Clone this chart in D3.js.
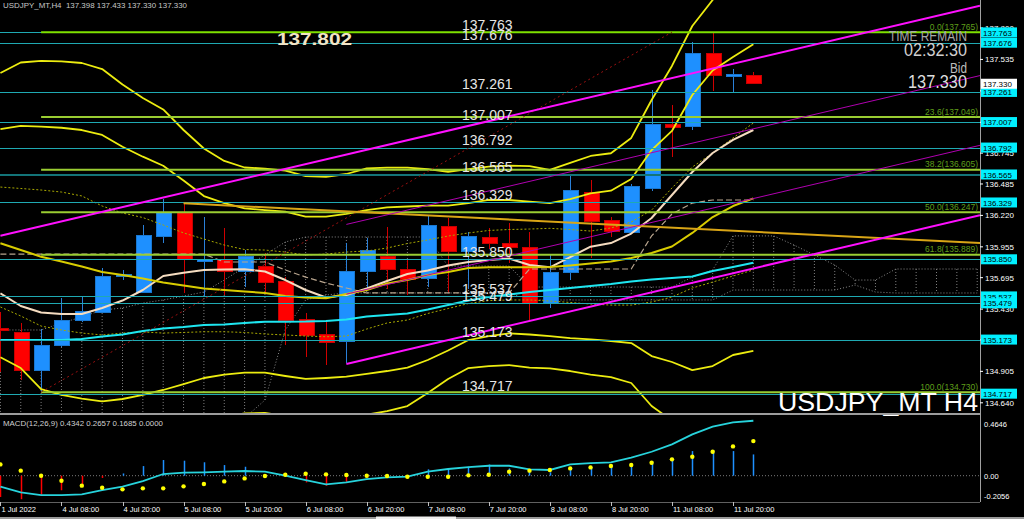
<!DOCTYPE html>
<html><head><meta charset="utf-8">
<script src="https://cdn.jsdelivr.net/npm/d3@7"></script>
<style>
body{margin:0;background:#000;overflow:hidden}
svg{display:block}
text{font-family:"Liberation Sans",Arial,sans-serif}
</style>
</head><body>
<svg id="c" width="1024" height="519"></svg>
<script>
// ---------- DATA ----------
const barTimes = ["2022.07.01 20:00","2022.07.04 00:00","2022.07.04 04:00","2022.07.04 08:00","2022.07.04 12:00","2022.07.04 16:00","2022.07.04 20:00","2022.07.05 00:00","2022.07.05 04:00","2022.07.05 08:00","2022.07.05 12:00","2022.07.05 16:00","2022.07.05 20:00","2022.07.06 00:00","2022.07.06 04:00","2022.07.06 08:00","2022.07.06 12:00","2022.07.06 16:00","2022.07.06 20:00","2022.07.07 00:00","2022.07.07 04:00","2022.07.07 08:00","2022.07.07 12:00","2022.07.07 16:00","2022.07.07 20:00","2022.07.08 00:00","2022.07.08 04:00","2022.07.08 08:00","2022.07.08 12:00","2022.07.08 16:00","2022.07.08 20:00","2022.07.11 00:00","2022.07.11 04:00","2022.07.11 08:00","2022.07.11 12:00","2022.07.11 16:00","2022.07.11 20:00","2022.07.12 00:00"];
const openP  = [135.268,135.234,134.916,135.127,135.330,135.403,135.703,135.571,136.046,136.246,135.840,135.850,135.745,135.793,135.661,135.344,135.220,135.161,135.751,135.872,135.765,135.684,136.130,135.914,136.035,135.985,135.948,135.479,135.737,136.415,136.173,136.074,136.448,136.988,136.968,137.587,137.398,137.398];
const highP  = [135.403,135.310,135.260,135.521,135.534,135.774,135.760,136.139,136.356,136.322,136.209,136.111,135.928,135.903,135.700,135.395,135.330,135.984,136.027,136.125,135.840,136.215,136.196,136.080,136.111,136.153,136.083,135.886,136.561,136.518,136.209,136.482,137.277,137.151,137.679,137.765,137.452,137.433];
const lowP   = [134.899,134.832,134.730,135.113,135.324,135.394,135.675,135.565,135.985,135.563,135.534,135.549,135.619,135.563,135.127,135.028,134.958,134.973,135.591,135.600,135.549,135.620,135.563,135.600,135.940,135.819,135.338,135.442,135.675,135.858,136.040,136.070,136.428,136.710,136.940,137.271,137.254,137.330];
const closeP = [135.255,134.916,135.127,135.332,135.408,135.709,135.723,136.049,136.246,135.844,135.852,135.745,135.872,135.652,135.332,135.211,135.150,135.751,135.928,135.765,135.681,136.133,135.914,136.040,135.985,135.948,135.479,135.737,136.426,136.167,136.083,136.462,136.988,136.965,137.587,137.398,137.405,137.330];

const bbUpper3 = [137.421,137.509,137.522,137.518,137.505,137.454,137.324,137.210,137.113,136.940,136.784,136.679,136.624,136.615,136.598,136.552,136.546,136.569,136.617,136.622,136.622,136.611,136.588,136.611,136.631,136.639,136.636,136.603,136.662,136.721,136.744,136.873,137.193,137.480,137.817,138.036,138.247,138.416];
const bbUpper2 = [136.948,136.974,136.968,136.959,136.940,136.898,136.799,136.715,136.639,136.514,136.383,136.324,136.280,136.265,136.251,136.209,136.209,136.232,136.265,136.287,136.295,136.303,136.303,136.324,136.350,136.350,136.337,136.324,136.358,136.406,136.428,136.527,136.771,136.932,137.235,137.442,137.556,137.663];
const bbMid    = [135.985,135.928,135.872,135.831,135.789,135.743,135.717,135.688,135.654,135.629,135.604,135.591,135.578,135.566,135.540,135.528,135.521,135.557,135.591,135.646,135.675,135.717,135.743,135.776,135.782,135.782,135.782,135.785,135.798,135.814,135.831,135.861,135.903,135.958,136.072,136.206,136.299,136.364];
const bbLower2 = [135.024,134.933,134.756,134.706,134.676,134.652,134.672,134.706,134.748,134.798,134.849,134.878,134.894,134.894,134.866,134.841,134.849,134.860,134.883,134.908,134.937,135.001,135.081,135.169,135.203,135.226,135.216,135.203,135.186,135.174,135.161,135.144,135.034,134.984,134.916,134.950,135.043,135.077];
const bbLower3 = [134.545,134.436,134.200,134.140,134.120,134.110,134.150,134.210,134.290,134.390,134.470,134.520,134.551,134.554,134.530,134.490,134.510,134.510,134.540,134.570,134.613,134.722,134.841,134.933,134.950,134.958,134.937,134.931,134.908,134.878,134.857,134.807,134.613,134.490,134.340,134.330,134.410,134.430];
const wheatMA  = [135.563,135.456,135.401,135.389,135.389,135.439,135.502,135.591,135.709,135.737,135.760,135.764,135.765,135.747,135.675,135.591,135.528,135.549,135.604,135.667,135.726,135.755,135.798,135.827,135.844,135.857,135.802,135.782,135.869,135.956,135.987,136.067,136.198,136.392,136.586,136.746,136.856,136.940];
const cyanMA   = [135.169,135.169,135.169,135.169,135.178,135.199,135.216,135.245,135.266,135.279,135.296,135.300,135.313,135.324,135.324,135.325,135.330,135.342,135.368,135.380,135.393,135.426,135.464,135.502,135.532,135.553,135.574,135.591,135.608,135.625,135.642,135.663,135.679,135.692,135.705,135.751,135.785,135.821];
const envUpper = [136.459,136.447,136.434,136.417,136.384,136.299,136.240,136.202,136.139,136.072,136.021,135.970,135.932,135.928,135.911,135.886,135.894,135.911,135.920,135.945,135.983,136.013,136.046,136.072,136.093,136.101,136.105,136.111,136.101,136.088,136.114,136.164,136.265,136.451,136.628,136.746,136.873,136.999];
const envLower = [135.448,135.372,135.287,135.254,135.228,135.212,135.228,135.237,135.228,135.233,135.239,135.239,135.233,135.220,135.212,135.203,135.197,135.203,135.262,135.313,135.338,135.393,135.435,135.477,135.502,135.507,135.507,135.498,135.486,135.473,135.464,135.464,135.490,135.532,135.608,135.658,135.709,135.760];
const kijun    = [135.894,135.894,135.894,135.894,135.894,135.894,135.894,135.894,135.894,135.894,135.894,135.827,135.827,135.827,135.760,135.700,135.650,135.608,135.566,135.566,135.566,135.566,135.566,135.566,135.566,135.566,135.768,135.768,135.768,135.768,135.768,135.768,136.047,136.232,136.324,136.350,136.350,136.350];
const spanA = [135.254,135.254,135.254,135.313,135.363,135.422,135.439,135.481,135.507,135.540,135.574,135.675,135.785,135.886,135.996,136.038,136.038,136.038,136.038,136.038,136.038,136.038,135.793,135.793,135.793,135.793,135.616,135.616,135.616,135.616,135.616,135.616,135.616,135.616,135.700,135.760,136.047,136.047,136.047,135.970,135.886,135.802,135.675,135.675,135.768,135.768,135.768,135.768,135.768];
const spanB = [134.410,134.410,134.410,134.394,134.394,134.394,134.394,134.410,134.427,134.453,134.453,134.453,134.512,134.663,135.254,135.507,135.549,135.566,135.566,135.566,135.566,135.566,135.566,135.566,135.566,135.566,135.507,135.507,135.507,135.507,135.507,135.507,135.507,135.507,135.507,135.507,135.591,135.591,135.591,135.591,135.591,135.591,135.633,135.574,135.566,135.566,135.566,135.566,135.566];

const macdHist   = [-0.19,-0.21,-0.17,-0.13,-0.10,-0.02,0.02,0.086,0.14,0.134,0.12,0.095,0.08,0.01,-0.005,-0.06,-0.09,-0.054,-0.018,-0.006,0.004,0.057,0.066,0.08,0.10,0.065,0.036,0.03,0.07,0.08,0.10,0.10,0.13,0.16,0.22,0.23,0.22,0.19];
const macdLine   = [-0.098,-0.149,-0.173,-0.173,-0.167,-0.128,-0.098,-0.048,0.015,0.027,0.030,0.036,0.042,0.036,0.000,-0.039,-0.077,-0.060,-0.030,-0.015,-0.009,0.036,0.060,0.077,0.089,0.089,0.057,0.051,0.101,0.113,0.119,0.161,0.214,0.280,0.369,0.438,0.477,0.491];
const macdSignal = [0.101,0.045,0.000,-0.045,-0.089,-0.107,-0.122,-0.113,-0.113,-0.095,-0.074,-0.051,-0.024,-0.003,0.009,0.018,0.012,0.006,0.000,-0.003,-0.009,-0.009,-0.009,0.003,0.009,0.036,0.045,0.051,0.065,0.074,0.086,0.095,0.116,0.146,0.169,0.214,0.262,0.309];

const hLinePrices = [137.763,137.676,137.261,137.007,136.792,136.565,136.329,135.850,135.537,135.479,135.173,134.717];
const fibLevels = ["0.0","23.6","38.2","50.0","61.8","100.0"];
const fibPrices = [137.765,137.049,136.605,136.247,135.889,134.730];
const fibStartBar = 2;
const channelStartBar = [0,17,17,17];
const channelStartPrice = [136.048,136.144,135.556,134.967];
const channelSlope = 0.0403;
const goldTrend = [{bar:9,price:136.322},{bar:48.14,price:135.987}];
const fibTrend = [{bar:2,price:134.730},{bar:33,price:137.765}];

const priceTicks = ["137.800","137.535","137.270","137.005","136.745","136.485","136.220","135.955","135.695","135.430","135.170","134.905","134.640"];
const macdTicks = ["0.4646","0.00","-0.2056"];
const timeLabels = ["1 Jul 2022","4 Jul 08:00","4 Jul 20:00","5 Jul 08:00","5 Jul 20:00","6 Jul 08:00","6 Jul 20:00","7 Jul 08:00","7 Jul 20:00","8 Jul 08:00","8 Jul 20:00","11 Jul 08:00","11 Jul 20:00"];
const timeLabelBars = [0,3,6,9,12,15,18,21,24,27,30,33,36];
const bidPrice = 137.330;
const headerText = "USDJPY_MT,H4  137.398 137.433 137.330 137.330";
const macdHeader = "MACD(12,26,9) 0.4342 0.2657 0.1685 0.0000";
const highLabel = "137.802";

// ---------- SCALES ----------
const svg = d3.select('#c');
const N = barTimes.length;
const x = d3.scaleLinear().domain([0,48]).range([0.4,977.2]);
const y = d3.scaleLinear().domain([134.640,137.800]).range([402.8,28]);
const ym = d3.scaleLinear().domain([0,0.4646]).range([475.7,423.7]);
const AX = 980;

svg.append('rect').attr('width',1024).attr('height',519).attr('fill','#000');
const defs = svg.append('defs');
defs.append('clipPath').attr('id','cm').append('rect').attr('x',0).attr('y',0).attr('width',AX).attr('height',413);
defs.append('clipPath').attr('id','cd').append('rect').attr('x',0).attr('y',415).attr('width',AX).attr('height',87);

const main = svg.append('g').attr('clip-path','url(#cm)');
const lineFn = arr => d3.line().x((d,i)=>x(i)).y(d=>y(d))(arr);

// Ichimoku-like cloud (dotted)
main.append('g').selectAll('line').data(d3.range(spanA.length)).join('line')
  .attr('x1',i=>x(i)).attr('x2',i=>x(i)).attr('y1',i=>y(spanA[i])).attr('y2',i=>y(spanB[i]))
  .attr('stroke','#808080').attr('stroke-width',1).attr('stroke-dasharray','1,2');
[spanA,spanB].forEach(s=>main.append('path').attr('d',lineFn(s)).attr('fill','none')
  .attr('stroke','#8a8a8a').attr('stroke-width',1).attr('stroke-dasharray','1,2'));

// candles
const cd = d3.range(N).map(i=>({i,o:openP[i],h:highP[i],l:lowP[i],c:closeP[i]}));
const cg = main.append('g').attr('shape-rendering','crispEdges');
cg.selectAll('line').data(cd).join('line')
  .attr('x1',d=>Math.round(x(d.i))+0.5).attr('x2',d=>Math.round(x(d.i))+0.5)
  .attr('y1',d=>y(d.h)).attr('y2',d=>y(d.l))
  .attr('stroke',d=>d.c>=d.o?'#2a80d8':'#d00000').attr('stroke-width',1);
cg.selectAll('rect').data(cd).join('rect')
  .attr('x',d=>Math.round(x(d.i))-7).attr('width',15)
  .attr('y',d=>y(Math.max(d.o,d.c)))
  .attr('height',d=>Math.max(2,Math.abs(y(d.o)-y(d.c))))
  .attr('fill',d=>d.c>=d.o?'#1E90FF':'#FF0000')
  .attr('stroke',d=>d.c>=d.o?'#1a78d0':'#c80000').attr('stroke-width',1);

// indicators
const ind = (arr,col,w,dash)=>main.append('path').attr('d',lineFn(arr)).attr('fill','none')
  .attr('stroke',col).attr('stroke-width',w).attr('stroke-dasharray',dash||null).attr('stroke-linejoin','round');
ind(envUpper,'#a8a800',1,'2,2');
ind(envLower,'#a8a800',1,'2,2');
ind(kijun,'#b9a58e',1.2,'6,3');
ind(cyanMA,'#1ee6f0',2);
ind(wheatMA,'#f5dcc0',2);
ind(bbMid,'#d8cc00',2);
ind(bbUpper3,'#ecec10',1.8);
ind(bbUpper2,'#ecec10',1.8);
ind(bbLower2,'#ecec10',1.8);
ind(bbLower3,'#ecec10',1.8);

// horizontal lines
const hg = main.append('g').attr('shape-rendering','crispEdges');
hg.selectAll('line').data(hLinePrices).join('line')
  .attr('x1',0).attr('x2',AX).attr('y1',d=>Math.round(y(d))+0.5).attr('y2',d=>Math.round(y(d))+0.5)
  .attr('stroke',d=>d===136.565?'#137478':'#1fa9b2').attr('stroke-width',d=>d===136.565?2:1);

// fib lines
const fg = main.append('g');
fg.selectAll('line').data(fibPrices).join('line')
  .attr('x1',x(fibStartBar)).attr('x2',AX).attr('y1',d=>y(d)).attr('y2',d=>y(d))
  .attr('stroke',(d,i)=>i===0?'#7ee000':'#9acd32').attr('stroke-width',2);
fg.selectAll('text').data(fibPrices).join('text')
  .attr('x',AX-2).attr('y',d=>y(d)-2.5).attr('text-anchor','end')
  .attr('font-size',8.5).attr('fill','#5f9e1a')
  .text((d,i)=>fibLevels[i]+'('+d.toFixed(3)+')');

// fib trend (dotted dark red)
main.append('line').attr('x1',x(fibTrend[0].bar)).attr('y1',y(fibTrend[0].price))
  .attr('x2',x(fibTrend[1].bar)).attr('y2',y(fibTrend[1].price))
  .attr('stroke','#9a1010').attr('stroke-width',1).attr('stroke-dasharray','2,3');

// gold trendline
main.append('line').attr('x1',x(goldTrend[0].bar)).attr('y1',y(goldTrend[0].price))
  .attr('x2',x(goldTrend[1].bar)).attr('y2',y(goldTrend[1].price))
  .attr('stroke','#d9a516').attr('stroke-width',2);

// channel
const endBar = x.invert(AX);
channelStartBar.forEach((b,k)=>{
  const p0 = channelStartPrice[k], p1 = p0 + channelSlope*(endBar-b);
  main.append('line').attr('x1',x(b)).attr('y1',y(p0)).attr('x2',AX).attr('y2',y(p1))
    .attr('stroke',(k===0||k===3)?'#ff10ff':'#b000b0').attr('stroke-width',(k===0||k===3)?2:1);
});

// hline labels
main.append('g').selectAll('text').data(hLinePrices).join('text')
  .attr('x',462).attr('y',d=>y(d)-2.5).attr('font-size',14).attr('fill','#e6e6e6')
  .text(d=>d.toFixed(3));

// big texts
svg.append('text').attr('x',277).attr('y',45).attr('font-size',16.5).attr('font-weight','bold')
  .attr('fill','#f3e4c6').attr('textLength',75).attr('lengthAdjust','spacingAndGlyphs').text(highLabel);
const rt = (t,yy,fs,len,col)=>svg.append('text').attr('x',967-len).attr('y',yy).attr('font-size',fs)
  .attr('fill',col).attr('textLength',len).attr('lengthAdjust','spacingAndGlyphs').text(t);
rt('TIME REMAIN',41,14,78,'#a8a8a8');
rt('02:32:30',56,17.5,63,'#cfcfcf');
rt('Bid',73,14,17,'#bcbcbc');
rt(bidPrice.toFixed(3),87.5,17.5,59,'#dedede');
svg.append('text').attr('x',778).attr('y',411).attr('font-size',26).attr('fill','#ffffff')
  .attr('textLength',200).attr('lengthAdjust','spacingAndGlyphs').text('USDJPY_MT H4');

// header
svg.append('text').attr('x',3).attr('y',7.5).attr('font-size',8).attr('fill','#c8c8c8')
  .attr('textLength',184).attr('lengthAdjust','spacingAndGlyphs').style('white-space','pre').text(headerText);

// panel separators
svg.append('rect').attr('x',0).attr('y',413).attr('width',AX).attr('height',2).attr('fill','#9c9c9c');
svg.append('line').attr('x1',AX+0.5).attr('x2',AX+0.5).attr('y1',0).attr('y2',502).attr('stroke','#a0a0a0');
svg.append('line').attr('x1',0).attr('x2',AX).attr('y1',502.5).attr('y2',502.5).attr('stroke','#606060');

// price axis
const pa = svg.append('g');
pa.selectAll('text').data(priceTicks).join('text')
  .attr('x',985).attr('y',d=>y(+d)+3).attr('font-size',8).attr('fill','#ffffff').text(d=>d);
pa.selectAll('line').data(priceTicks).join('line')
  .attr('x1',AX).attr('x2',AX+3).attr('y1',d=>y(+d)).attr('y2',d=>y(+d)).attr('stroke','#ffffff');
const boxes = svg.append('g');
hLinePrices.forEach(p=>{
  const yy=y(p);
  boxes.append('rect').attr('x',981).attr('y',yy-5).attr('width',36).attr('height',10).attr('fill','#00f0ff');
  boxes.append('text').attr('x',983).attr('y',yy+3.2).attr('font-size',8).attr('fill','#000').text(p.toFixed(3));
});
boxes.append('rect').attr('x',981).attr('y',y(bidPrice)-5).attr('width',36).attr('height',10).attr('fill','#ffffff');
boxes.append('text').attr('x',983).attr('y',y(bidPrice)+3.2).attr('font-size',8).attr('fill','#000').text(bidPrice.toFixed(3));

// ---------- MACD ----------
const md = svg.append('g').attr('clip-path','url(#cd)');
md.append('line').attr('x1',0).attr('x2',AX).attr('y1',ym(0)).attr('y2',ym(0))
  .attr('stroke','#7a7a7a').attr('stroke-dasharray','1,2');
md.selectAll('line.h').data(macdHist).join('line').attr('class','h')
  .attr('x1',(d,i)=>Math.round(x(i))+0.5).attr('x2',(d,i)=>Math.round(x(i))+0.5)
  .attr('y1',ym(0)).attr('y2',d=>ym(d))
  .attr('stroke',d=>d>=0?'#1E90FF':'#FF0000').attr('stroke-width',1.5);
md.append('path').attr('d',d3.line().x((d,i)=>x(i)).y(d=>ym(d))(macdLine))
  .attr('fill','none').attr('stroke','#27d3dc').attr('stroke-width',1.8);
md.selectAll('circle').data(macdSignal).join('circle')
  .attr('cx',(d,i)=>x(i)).attr('cy',d=>ym(d)).attr('r',2.2).attr('fill','#ffff00');
svg.append('text').attr('x',3).attr('y',426).attr('font-size',7.5).attr('fill','#d0d0d0')
  .attr('textLength',160).attr('lengthAdjust','spacingAndGlyphs').text(macdHeader);
svg.append('g').selectAll('text').data(macdTicks).join('text')
  .attr('x',984).attr('y',d=>Math.min(ym(+d)+3,499)).attr('font-size',7.5).attr('fill','#ffffff').text(d=>d);

// ---------- TIME AXIS ----------
const ta = svg.append('g');
ta.selectAll('text').data(timeLabels).join('text')
  .attr('x',(d,i)=>x(timeLabelBars[i])+1).attr('y',512).attr('font-size',7.5).attr('fill','#ffffff').text(d=>d);
ta.selectAll('line').data(timeLabelBars).join('line')
  .attr('x1',d=>Math.round(x(d))+0.5).attr('x2',d=>Math.round(x(d))+0.5).attr('y1',502).attr('y2',506)
  .attr('stroke','#c0c0c0');
svg.append('rect').attr('x',0).attr('y',517).attr('width',1024).attr('height',2).attr('fill','#9a9a9a');
svg.append('rect').attr('x',376).attr('y',516.5).attr('width',80).attr('height',2.5).attr('fill','#f0f0f0');
</script>
</body></html>
